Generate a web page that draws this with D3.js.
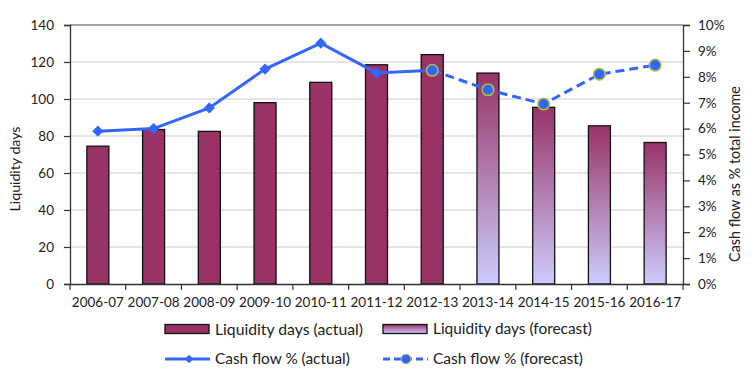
<!DOCTYPE html>
<html>
<head>
<meta charset="utf-8">
<title>Liquidity days</title>
<script src="https://cdn.jsdelivr.net/npm/d3@7"></script>
<style>
	body { margin: 0; background: #fff; }
	text { font-family: Lato, "Open Sans", sans-serif; fill: #222; }
</style>
</head>
<body>
<script>
	// data
	let categories = ['2006-07', '2007-08', '2008-09', '2009-10', '2010-11', '2011-12', '2012-13', '2013-14', '2014-15', '2015-16', '2016-17'];
	let liquidityDays = [74.5, 83.5, 82.5, 98, 109, 118.5, 124, 114, 95.5, 85.5, 76.5];
	let forecastFrom = '2013-14';
	let cashActualYears = ['2006-07', '2007-08', '2008-09', '2009-10', '2010-11', '2011-12', '2012-13'];
	let cashActual = [5.9, 6.0, 6.8, 8.3, 9.3, 8.15, 8.25];
	let cashForecastYears = ['2012-13', '2013-14', '2014-15', '2015-16', '2016-17'];
	let cashForecast = [8.25, 7.5, 6.95, 8.1, 8.45];
	let leftTicks = [0, 20, 40, 60, 80, 100, 120, 140];
	let rightTicks = [0, 1, 2, 3, 4, 5, 6, 7, 8, 9, 10];

	let W = 754, H = 378;
	let m = { left: 70, right: 71, top: 25, bottom: 94 };
	let barColor = '#993366', lineColor = '#3366ff', ringColor = '#a8c43c';

	let svg = d3.select('body').append('svg').attr('width', W).attr('height', H);

	// scale a text's font size so it spans about len px
	function fit(t, len) {
		let fs = parseFloat(t.style('font-size'));
		let w = t.node().getComputedTextLength();
		if (w > 0) t.style('font-size', (fs * len / w) + 'px');
		return t;
	}

	// gradient for forecast bars
	let grad = svg.append('defs').append('linearGradient').attr('id', 'fc')
		.attr('x1', 0).attr('y1', 0).attr('x2', 0).attr('y2', 1);
	grad.append('stop').attr('offset', '0%').attr('stop-color', barColor);
	grad.append('stop').attr('offset', '100%').attr('stop-color', '#ccccff');

	let x = d3.scaleBand().domain(categories).range([m.left, W - m.right]);
	let y = d3.scaleLinear().domain([0, 140]).range([H - m.bottom, m.top]);
	let y2 = d3.scaleLinear().domain([0, 10]).range([H - m.bottom, m.top]);

	// grid
	svg.append('g').selectAll('line').data(leftTicks.slice(1)).enter().append('line')
		.attr('x1', m.left).attr('x2', W - m.right)
		.attr('y1', d => y(d)).attr('y2', d => y(d))
		.attr('stroke', d => d == 140 ? '#888' : '#dcdcdc')
		.attr('stroke-width', 1.5);

	// bars
	let bw = 22;
	let fcIdx = categories.indexOf(forecastFrom);
	svg.append('g').selectAll('rect').data(liquidityDays).enter().append('rect')
		.attr('x', (d, i) => x(categories[i]) + x.bandwidth() / 2 - bw / 2)
		.attr('y', d => y(d))
		.attr('width', bw)
		.attr('height', d => y(0) - y(d))
		.attr('fill', (d, i) => i >= fcIdx ? 'url(#fc)' : barColor)
		.attr('stroke', '#111').attr('stroke-width', 1.3);

	// axes
	let leftAxis = svg.append('g').attr('transform', 'translate(' + m.left + ',0)')
		.call(d3.axisLeft(y).tickValues(leftTicks).tickSize(6).tickPadding(10));
	let rightAxis = svg.append('g').attr('transform', 'translate(' + (W - m.right) + ',0)')
		.call(d3.axisRight(y2).tickValues(rightTicks).tickSize(7).tickPadding(8).tickFormat(d => d + '%'));
	let bottomAxis = svg.append('g').attr('transform', 'translate(0,' + (H - m.bottom) + ')')
		.call(d3.axisBottom(x).tickSize(0).tickPadding(13));
	// category boundary ticks
	svg.append('g').selectAll('line').data(categories.concat([''])).enter().append('line')
		.attr('x1', (d, i) => m.left + i * x.step()).attr('x2', (d, i) => m.left + i * x.step())
		.attr('y1', y(0)).attr('y2', y(0) + 6)
		.attr('stroke', '#333').attr('stroke-width', 1.2);

	[leftAxis, rightAxis, bottomAxis].forEach(function(a) {
		a.selectAll('path').attr('stroke', '#333').attr('stroke-width', 1.3);
		a.selectAll('line').attr('stroke', '#333').attr('stroke-width', 1.2);
		a.selectAll('text').style('font-size', '13.5px').attr('fill', '#222');
	});
	leftAxis.selectAll('text').attr('fill', '#444');
	rightAxis.selectAll('text').attr('fill', '#444');

	// axis titles
	fit(svg.append('text').text('Liquidity days')
		.attr('transform', 'translate(20,169) rotate(-90)')
		.attr('text-anchor', 'middle').style('font-size', '14px'), 85);
	fit(svg.append('text').text('Cash flow as % total income')
		.attr('transform', 'translate(740,174) rotate(-90)')
		.attr('text-anchor', 'middle').style('font-size', '14px'), 176);

	// lines
	let cx = d => x(d) + x.bandwidth() / 2;
	let lineA = d3.line().x((d, i) => cx(cashActualYears[i])).y(d => y2(d));
	let lineF = d3.line().x((d, i) => cx(cashForecastYears[i])).y(d => y2(d));

	svg.append('path').datum(cashActual).attr('d', lineA)
		.attr('fill', 'none').attr('stroke', lineColor).attr('stroke-width', 3);
	svg.append('path').datum(cashForecast).attr('d', lineF)
		.attr('fill', 'none').attr('stroke', lineColor).attr('stroke-width', 3)
		.attr('stroke-dasharray', '9,5');

	let diamond = d3.symbol().type(d3.symbolDiamond2).size(80);
	svg.append('g').selectAll('path').data(cashActual).enter().append('path')
		.attr('d', diamond)
		.attr('transform', (d, i) => 'translate(' + cx(cashActualYears[i]) + ',' + y2(d) + ')')
		.attr('fill', lineColor);
	svg.append('g').selectAll('circle').data(cashForecast).enter().append('circle')
		.attr('cx', (d, i) => cx(cashForecastYears[i]))
		.attr('cy', d => y2(d))
		.attr('r', 5.8)
		.attr('fill', lineColor).attr('stroke', ringColor).attr('stroke-width', 1.5);

	// legend
	let lg = svg.append('g');
	let row1 = 329, row2 = 359, fs = '15px';
	lg.append('rect').attr('x', 165).attr('y', row1 - 4.5).attr('width', 44).attr('height', 9)
		.attr('fill', barColor).attr('stroke', '#111').attr('stroke-width', 1.3);
	fit(lg.append('text').text('Liquidity days (actual)').attr('x', 215).attr('y', row1).attr('dy', '0.35em').style('font-size', fs), 148);
	lg.append('rect').attr('x', 383).attr('y', row1 - 4.5).attr('width', 44).attr('height', 9)
		.attr('fill', 'url(#fc)').attr('stroke', '#111').attr('stroke-width', 1.3);
	fit(lg.append('text').text('Liquidity days (forecast)').attr('x', 433).attr('y', row1).attr('dy', '0.35em').style('font-size', fs), 159);

	lg.append('line').attr('x1', 165).attr('x2', 210).attr('y1', row2).attr('y2', row2)
		.attr('stroke', lineColor).attr('stroke-width', 3);
	lg.append('path').attr('d', d3.symbol().type(d3.symbolDiamond2).size(45))
		.attr('transform', 'translate(189,' + row2 + ')').attr('fill', lineColor);
	fit(lg.append('text').text('Cash flow % (actual)').attr('x', 215).attr('y', row2).attr('dy', '0.35em').style('font-size', fs), 135);
	lg.append('line').attr('x1', 383).attr('x2', 428).attr('y1', row2).attr('y2', row2)
		.attr('stroke', lineColor).attr('stroke-width', 3).attr('stroke-dasharray', '7,4');
	lg.append('circle').attr('cx', 406).attr('cy', row2).attr('r', 4.8)
		.attr('fill', lineColor).attr('stroke', ringColor).attr('stroke-width', 1);
	fit(lg.append('text').text('Cash flow % (forecast)').attr('x', 433).attr('y', row2).attr('dy', '0.35em').style('font-size', fs), 150);
</script>
</body>
</html>
